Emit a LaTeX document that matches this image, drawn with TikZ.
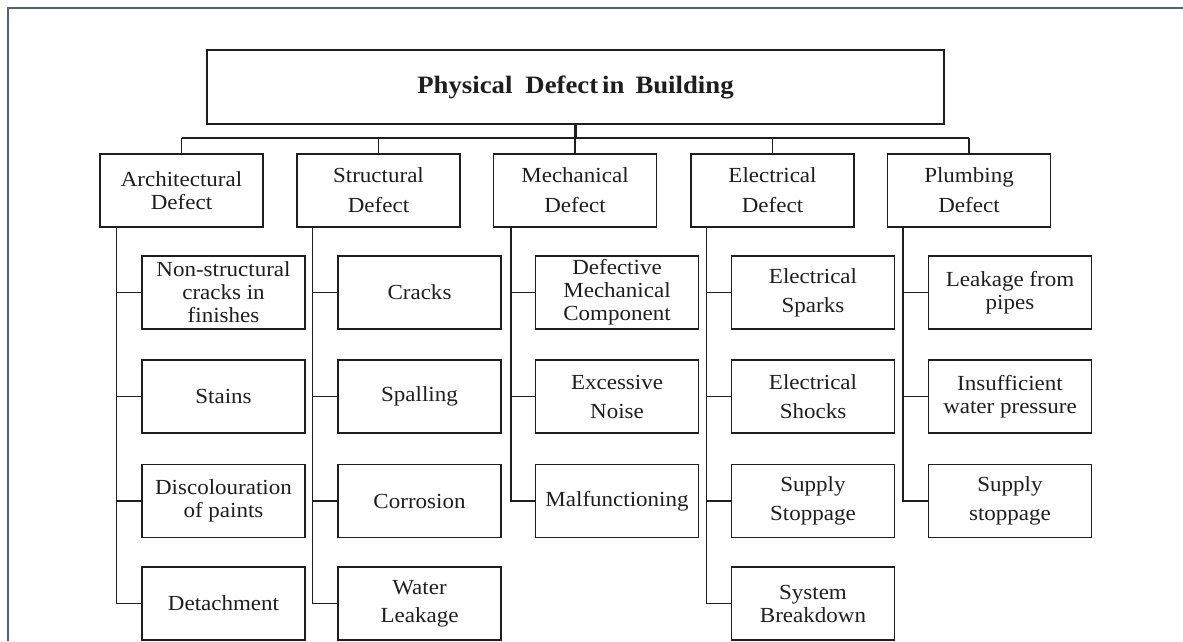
\documentclass[tikz,border=0pt]{standalone}
\usepackage{fontspec}
\setmainfont{Liberation Serif}[FakeStretch=1.07]
\definecolor{framecol}{HTML}{51627A}
\definecolor{ink}{HTML}{1E1E1E}
\begin{document}
\begin{tikzpicture}[x=1pt,y=-1pt,
  box/.style={draw=ink, line width=1.2pt, minimum width=163pt, minimum height=73pt,
    inner sep=0pt, align=center, text=ink, font=\fontsize{21.5}{23}\selectfont},
  titlebox/.style={draw=ink, line width=1.2pt, minimum width=737pt, minimum height=74pt,
    inner sep=0pt, align=center, text=ink, font=\fontsize{25}{26}\selectfont\bfseries},
  link/.style={draw=ink, line width=1.3pt},
  buslink/.style={draw=ink, line width=2pt},
  stemlink/.style={draw=ink, line width=3pt},
  framestyle/.style={draw=framecol, line width=1.6pt}]
\useasboundingbox (0,0) rectangle (1183,641);
\draw[framestyle] (8,641) -- (8,8) -- (1183,8);

% title
\node[titlebox] (top) at (575.5,87) {Physical\hspace{13pt}Defect\hspace{4pt}in\hspace{11pt}Building};

% categories
\node[box] (c1) at (181.5,190.5) {Architectural\\Defect};
\node[box] (c2) at (378.5,190.5) {Structural\\[7pt]Defect};
\node[box] (c3) at (575,190.5) {Mechanical\\[7pt]Defect};
\node[box] (c4) at (772.5,190.5) {Electrical\\[7pt]Defect};
\node[box] (c5) at (969,190.5) {Plumbing\\[7pt]Defect};

% bus
\coordinate (bus) at (575.5,138);
\draw[stemlink] (top.south) -- (bus);
\draw[buslink] (c1.north |- bus) -- (c5.north |- bus);
\foreach \c in {c1,c2,c3,c4,c5} {\draw[link] (\c.north) -- (\c.north |- bus);}

% children: architectural
\node[box] (a1) at (223.5,292.5) {Non-structural\\cracks in\\finishes};
\node[box] (a2) at (223.5,396.5) {Stains};
\node[box] (a3) at (223.5,501) {Discolouration\\of paints};
\node[box] (a4) at (223.5,603.5) {Detachment};
% structural
\node[box] (b1) at (419.5,292.5) {Cracks};
\node[box] (b2) at (419.5,396.5) {Spalling};
\node[box] (b3) at (419.5,501) {Corrosion};
\node[box] (b4) at (419.5,603.5) {Water\\[5pt]Leakage};
% mechanical
\node[box] (m1) at (617,292.5) {Defective\\Mechanical\\Component};
\node[box] (m2) at (617,396.5) {Excessive\\[6pt]Noise};
\node[box] (m3) at (617,501) {Malfunctioning};
% electrical
\node[box] (e1) at (813,292.5) {Electrical\\[6pt]Sparks};
\node[box] (e2) at (813,396.5) {Electrical\\[6pt]Shocks};
\node[box] (e3) at (813,501) {Supply\\[6pt]Stoppage};
\node[box] (e4) at (813,603.5) {System\\Breakdown};
% plumbing
\node[box] (p1) at (1010,292.5) {Leakage from\\pipes};
\node[box] (p2) at (1010,396.5) {Insufficient\\water pressure};
\node[box] (p3) at (1010,501) {Supply\\[6pt]stoppage};

% spines
\coordinate (s1) at ([xshift=17pt]c1.south west);
\coordinate (s2) at ([xshift=16pt]c2.south west);
\coordinate (s3) at ([xshift=18pt]c3.south west);
\coordinate (s4) at ([xshift=16pt]c4.south west);
\coordinate (s5) at ([xshift=16pt]c5.south west);

\draw[link] (s1) -- (s1 |- a4.west) -- (a4.west);
\foreach \n in {a1,a2,a3} {\draw[link] (\n.west) -- (\n.west -| s1);}
\draw[link] (s2) -- (s2 |- b4.west) -- (b4.west);
\foreach \n in {b1,b2,b3} {\draw[link] (\n.west) -- (\n.west -| s2);}
\draw[link] (s3) -- (s3 |- m3.west) -- (m3.west);
\foreach \n in {m1,m2} {\draw[link] (\n.west) -- (\n.west -| s3);}
\draw[link] (s4) -- (s4 |- e4.west) -- (e4.west);
\foreach \n in {e1,e2,e3} {\draw[link] (\n.west) -- (\n.west -| s4);}
\draw[link] (s5) -- (s5 |- p3.west) -- (p3.west);
\foreach \n in {p1,p2} {\draw[link] (\n.west) -- (\n.west -| s5);}
\end{tikzpicture}
\end{document}
